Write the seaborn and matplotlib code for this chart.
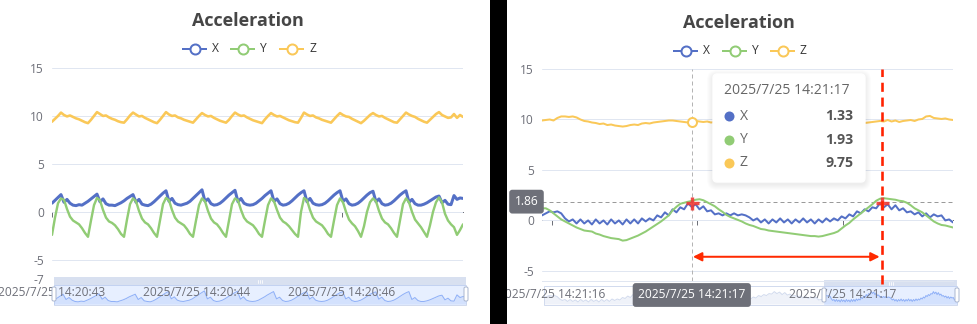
import numpy as np
import pandas as pd
import matplotlib
matplotlib.use("Agg")
import matplotlib.pyplot as plt
import matplotlib.transforms as mtransforms
from matplotlib.patches import Rectangle, FancyBboxPatch
import seaborn as sns

# ---------------- data ----------------
series_names = ["X", "Y", "Z"]
series_colors = ["#5470c6", "#91cc75", "#fac858"]
chart_title = "Acceleration"

# left chart (full range view)
left_x_labels = ["2025/7/25 14:20:43", "2025/7/25 14:20:44", "2025/7/25 14:20:46"]
left_x_label_pos = [0, 48.3, 96.7]
left_yticks = [15, 10, 5, 0, -5, -7]
left_ylim = (-7, 15)

X_left = [0.9, 1.2, 1.5,
          1.8, 1.0, 1.3, 0.9, 0.7, 0.65, 0.75, 0.7, 0.9, 1.1, 1.35, 1.6,
          1.85, 1.05, 1.35, 0.85, 0.7, 0.7, 0.65, 0.8, 0.95, 1.15, 1.4, 1.6,
          1.8, 1.0, 1.3, 0.8, 0.7, 0.65, 0.8, 1.05, 1.35, 1.65, 1.95,
          2.2, 1.1, 1.4, 0.9, 0.75, 0.7, 0.8, 0.9, 1.1, 1.4, 1.7, 2.0,
          2.3, 1.1, 1.35, 0.85, 0.7, 0.75, 0.9, 1.15, 1.45, 1.75, 2.0,
          2.25, 1.05, 1.4, 0.9, 0.75, 0.7, 0.75, 0.9, 1.15, 1.4, 1.7, 1.95,
          2.2, 1.1, 1.35, 0.85, 0.7, 0.75, 0.9, 1.15, 1.45, 1.75, 2.0,
          2.2, 1.05, 1.4, 0.9, 0.75, 0.7, 0.75, 0.9, 1.15, 1.45, 1.75, 2.0,
          2.2, 1.1, 1.35, 0.85, 0.7, 0.75, 0.9, 1.15, 1.45, 1.75, 2.0,
          2.15, 1.05, 1.35, 0.85, 0.7, 0.75, 0.9, 1.15, 1.45, 1.75, 2.0,
          2.2, 1.0, 1.3, 0.85, 0.7, 0.7, 0.8, 0.95, 1.15, 1.35, 1.55,
          1.65, 0.95, 1.2, 0.8, 0.75, 1.7, 1.3, 1.45, 1.4]

Y_left = [-2.4, -0.6, 0.9,
          1.4, 1.25, 0.3, -0.5, -0.9, -1.1, -1.3, -1.7, -2.2, -2.6, -0.9, 0.7,
          1.45, 1.2, 0.2, -0.6, -1.0, -1.15, -1.4, -1.8, -2.3, -2.6, -0.8, 0.8,
          1.4, 1.1, 0.1, -0.7, -1.1, -1.3, -1.7, -2.2, -2.6, -0.9, 0.8,
          1.45, 1.2, 0.2, -0.6, -1.0, -1.2, -1.4, -1.8, -2.3, -2.6, -0.9, 0.7,
          1.4, 1.1, 0.1, -0.7, -1.1, -1.3, -1.7, -2.2, -2.6, -0.9, 0.8,
          1.4, 1.2, 0.2, -0.6, -1.0, -1.2, -1.4, -1.8, -2.3, -2.6, -0.9, 0.7,
          1.4, 1.1, 0.2, -0.6, -1.0, -1.2, -1.5, -1.9, -2.3, -2.6, 0.0,
          1.45, 1.2, 0.2, -0.6, -1.0, -1.2, -1.4, -1.8, -2.3, -2.6, -0.9, 0.7,
          1.4, 1.0, 0.0, -0.8, -1.2, -1.5, -2.0, -2.6, -1.5, 0.0, 1.0,
          1.4, 1.1, 0.1, -0.7, -1.1, -1.3, -1.7, -2.2, -2.6, -0.9, 0.8,
          1.4, 1.0, 0.0, -0.8, -1.2, -1.6, -2.1, -2.6, -1.4, 0.0, 1.0,
          1.5, 1.0, -0.2, -0.9, -1.3, -1.6, -2.4, -1.9, -1.3]

Z_left = [9.4, 9.7, 10.0,
          10.35, 10.1, 9.95, 10.05, 9.9, 9.75, 9.65, 9.5, 9.35, 9.25, 9.6, 10.0,
          10.4, 10.2, 10.0, 10.05, 9.85, 9.7, 9.6, 9.45, 9.35, 9.3, 9.65, 10.05,
          10.35, 10.15, 9.95, 10.0, 9.8, 9.65, 9.5, 9.35, 9.25, 9.6, 10.0,
          10.4, 10.15, 10.0, 10.05, 9.85, 9.75, 9.6, 9.5, 9.4, 9.3, 9.65, 10.0,
          10.3, 10.1, 9.95, 10.0, 9.8, 9.65, 9.5, 9.4, 9.3, 9.6, 10.0,
          10.35, 10.15, 10.0, 10.05, 9.85, 9.7, 9.55, 9.45, 9.35, 9.25, 9.65, 10.0,
          10.3, 10.1, 9.95, 10.0, 9.85, 9.7, 9.55, 9.45, 9.35, 9.3, 9.8,
          10.35, 10.15, 10.0, 10.05, 9.85, 9.75, 9.6, 9.5, 9.4, 9.3, 9.65, 10.0,
          10.3, 10.1, 9.95, 9.9, 9.7, 9.55, 9.4, 9.25, 9.5, 9.8, 10.1,
          10.3, 10.1, 9.95, 10.0, 9.8, 9.65, 9.5, 9.35, 9.3, 9.65, 10.0,
          10.35, 10.15, 10.0, 9.9, 9.7, 9.55, 9.4, 9.3, 9.6, 9.9, 10.2,
          10.4, 10.1, 9.95, 9.8, 9.85, 10.2, 9.8, 10.1, 9.9]

# right chart (zoomed view with tooltip)
right_x_labels = ["2025/7/25 14:21:16", "2025/7/25 14:21:17", "2025/7/25 14:21:17"]
right_x_label_pos = [2.6, 40.4, 78.4]
right_yticks = [15, 10, 5, 0, -5]
right_ylim = (-6, 15)

X_right = [0.5, 0.7, 0.9, 0.8, 0.9, 0.7, 0.2, -0.1, 0.1, -0.3,
           0.1, -0.3, 0.0, -0.4, 0.1, -0.3, 0.0, -0.4, 0.1, -0.3,
           0.0, -0.4, 0.1, -0.3, 0.1, -0.3, 0.2, -0.1, 0.2, 0.0,
           0.5, 0.3, 0.8, 0.5, 1.1, 0.8, 1.3, 1.1, 1.7, 1.33,
           1.6, 1.1, 1.4, 0.9, 1.0, 0.6, 0.7, 0.5, 0.7, 0.5,
           0.7, 0.5, 0.6, 0.5, 0.3, 0.0, 0.2, -0.2, 0.1, -0.3,
           0.1, -0.2, 0.2, -0.2, 0.1, -0.3, 0.1, -0.2, 0.2, -0.2,
           0.1, -0.3, 0.1, -0.2, 0.2, -0.1, 0.2, 0.0, 0.4, 0.2,
           0.6, 0.4, 0.9, 0.7, 1.1, 0.9, 1.3, 1.2, 1.7, 1.3,
           1.6, 1.1, 1.5, 1.0, 1.2, 0.8, 0.9, 0.6, 0.8, 0.4,
           0.7, 0.3, 0.6, 0.4, 0.5, 0.0, 0.1, -0.2]

Y_right = [1.2, 1.2, 1.0, 0.7, 0.4, 0.1, -0.1, -0.3, -0.5, -0.7,
           -0.85, -1.0, -1.05, -1.1, -1.3, -1.4, -1.55, -1.65, -1.75, -1.8,
           -1.85, -2.0, -1.95, -1.8, -1.65, -1.5, -1.3, -1.1, -0.85, -0.6,
           -0.35, -0.1, 0.2, 0.5, 1.0, 1.35, 1.65, 1.75, 1.85, 1.93,
           2.05, 2.1, 2.0, 1.8, 1.6, 1.4, 1.1, 0.85, 0.55, 0.35,
           0.2, 0.05, -0.1, -0.3, -0.45, -0.55, -0.7, -0.85, -0.9, -1.0,
           -1.05, -1.1, -1.15, -1.2, -1.25, -1.3, -1.35, -1.4, -1.45, -1.5,
           -1.55, -1.55, -1.6, -1.55, -1.45, -1.35, -1.25, -1.1, -0.8, -0.5,
           -0.25, 0.1, 0.4, 0.7, 1.0, 1.3, 1.6, 1.95, 2.15, 2.2,
           2.15, 2.1, 2.05, 1.95, 1.9, 1.75, 1.5, 1.2, 1.0, 0.8,
           0.5, 0.2, -0.1, -0.3, -0.45, -0.5, -0.6, -0.7]

Z_right = [9.9, 9.95, 10.0, 9.9, 10.15, 10.3, 10.3, 10.25, 10.3, 10.2,
           10.0, 9.85, 9.8, 9.7, 9.65, 9.55, 9.6, 9.45, 9.5, 9.4,
           9.35, 9.3, 9.35, 9.45, 9.5, 9.45, 9.6, 9.65, 9.6, 9.7,
           9.75, 9.8, 9.85, 9.9, 9.9, 9.85, 9.8, 9.75, 9.7, 9.75,
           9.85, 9.8, 9.75, 9.8, 9.7, 9.75, 9.8, 9.7, 9.75, 9.8,
           9.85, 9.8, 9.9, 9.85, 9.8, 9.75, 9.7, 9.75, 9.8, 9.7,
           9.65, 9.7, 9.75, 9.7, 9.65, 9.7, 9.6, 9.65, 9.7, 9.6,
           9.55, 9.6, 9.65, 9.6, 9.55, 9.6, 9.65, 9.6, 9.55, 9.6,
           9.65, 9.6, 9.65, 9.6, 9.65, 9.7, 9.75, 9.8, 9.85, 9.8,
           9.95, 9.8, 9.9, 9.75, 9.85, 9.9, 9.95, 9.85, 10.0, 10.05,
           10.3, 10.35, 10.15, 10.1, 10.05, 10.1, 10.0, 9.95]

hover_idx = 39
hover_time = "2025/7/25 14:21:17"
hover_values = [1.33, 1.93, 9.75]
pointer_y = 1.86
cross_y = 1.75
marker_idx = 88.5
arrow_y = -3.6

# ---------------- style ----------------
sns.set_style("white")
plt.rcParams["font.family"] = ["Open Sans", "DejaVu Sans"]
plt.rcParams["axes.unicode_minus"] = False
BOLD_FAMILY = ["Open Sans", "Lato", "DejaVu Sans"]

W, H, DPI = 978, 324, 100
PT = 72 / DPI
FS = 12 * PT
AXIS_GRAY = "#6e7079"
GRID = "#e0e6f1"

fig = plt.figure(figsize=(W / DPI, H / DPI), dpi=DPI, facecolor="white")


def px_axes(x0, y0, x1, y1, z):
    a = fig.add_axes([x0 / W, 1 - y1 / H, (x1 - x0) / W, (y1 - y0) / H])
    a.set_zorder(z)
    return a


bg = px_axes(0, 0, W, H, -1)
bg.set_xlim(0, W); bg.set_ylim(H, 0); bg.axis("off")
ov = px_axes(0, 0, W, H, 10)
ov.set_xlim(0, W); ov.set_ylim(H, 0); ov.axis("off")


def draw_panel(box, X, Y, Z, ylim, yticks, xlabels, xpos, lws, bottom_line):
    ax = px_axes(*box, 1)
    ax.patch.set_visible(False)
    ax.set_axisbelow(True)
    for vals, color, lw in zip((X, Y, Z), series_colors, lws):
        df = pd.DataFrame({"t": np.arange(len(vals)), "v": vals})
        sns.lineplot(data=df, x="t", y="v", ax=ax, color=color, linewidth=lw * PT,
                     estimator=None, sort=False, legend=False)
    ax.set_xlim(0, max(len(X), len(Y), len(Z)) - 1)
    ax.set_ylim(*ylim)
    ax.set_yticks(yticks)
    ax.set_yticklabels([str(v) for v in yticks])
    ax.set_xticks(xpos)
    ax.set_xticklabels(xlabels)
    ax.set_xlabel(""); ax.set_ylabel("")
    ax.tick_params(axis="y", left=False, length=0, pad=8 * PT, labelsize=FS, labelcolor=AXIS_GRAY)
    ax.tick_params(axis="x", bottom=False, length=0, pad=7 * PT, labelsize=FS, labelcolor=AXIS_GRAY)
    ax.grid(axis="y", color=GRID, lw=1 * PT)
    ax.grid(axis="x", visible=False)
    for s in ax.spines.values():
        s.set_visible(False)
    if bottom_line:
        ax.spines["bottom"].set_visible(True)
        ax.spines["bottom"].set_color(GRID)
        ax.spines["bottom"].set_linewidth(1 * PT)
    sec = ax.secondary_xaxis(-ylim[0] / (ylim[1] - ylim[0]))
    sec.set_xticks(xpos)
    sec.tick_params(axis="x", bottom=True, top=False, length=5 * PT, width=1 * PT,
                    color=AXIS_GRAY, labelbottom=False, labeltop=False, direction="out")
    sec.spines["bottom"].set_color(AXIS_GRAY)
    sec.spines["bottom"].set_linewidth(1 * PT)
    return ax


def shadow(x0, x1, ytop, ybot, vals, color, fill_alpha, z):
    a = px_axes(x0, ytop, x1, ybot, z)
    a.axis("off")
    t = np.arange(len(vals))
    df = pd.DataFrame({"t": t, "v": vals})
    sns.lineplot(data=df, x="t", y="v", ax=a, color=color, linewidth=1 * PT,
                 estimator=None, sort=False, legend=False)
    lo, hi = min(vals), max(vals)
    span = hi - lo
    base = lo - 0.2 * span
    a.fill_between(t, vals, base, color=color, alpha=fill_alpha, lw=0)
    a.set_ylim(base, hi + 0.45 * span)
    a.set_xlim(0, len(vals) - 1)


def draw_slider(x0, x1, y_handle, y_body, y_bot, sel0, sel1, vals):
    bg.add_patch(Rectangle((x0, y_body), x1 - x0, y_bot - y_body, fc="white",
                           ec="#d2dbee", lw=1 * PT))
    if sel0 > x0:
        shadow(x0, sel0, y_body + 1, y_bot - 1, vals, "#d2dbee", 0.35, 0.5)
    bg.add_patch(Rectangle((sel0, y_body), sel1 - sel0, y_bot - y_body,
                           fc="#87afff", alpha=0.2, lw=0))
    shadow(sel0, sel1, y_body + 1, y_bot - 1, vals, "#8fb0f7", 0.22, 0.5)
    bg.add_patch(Rectangle((sel0, y_handle), sel1 - sel0, y_body - y_handle,
                           fc="#d2dbee", alpha=0.85, lw=0))
    cx = (sel0 + sel1) / 2
    cy = (y_handle + y_body) / 2
    for dx in (-2, 0, 2):
        bg.plot([cx + dx, cx + dx], [cy - 1.5, cy + 1.5], color="white", lw=0.8 * PT)
    for hx in (sel0, sel1):
        ov.add_patch(FancyBboxPatch((hx - 2, y_body + 2), 4, 14,
                                    boxstyle="round,pad=0,rounding_size=1.5",
                                    fc="white", ec="#acb8d1", lw=1 * PT, zorder=3))


def draw_legend(x_starts, y):
    for xs, name, color in zip(x_starts, series_names, series_colors):
        ov.plot([xs, xs + 25], [y, y], color=color, lw=2 * PT, solid_capstyle="butt")
        ov.plot([xs + 12.5], [y], marker="o", ms=10 * PT, mfc="white", mec=color, mew=2 * PT)
        ov.text(xs + 30, y, name, ha="left", va="center", fontsize=FS, color="#333333")


# ---------------- left panel ----------------
ax_l = draw_panel((52, 68, 463, 279), X_left, Y_left, Z_left, left_ylim, left_yticks,
                  left_x_labels, left_x_label_pos, (3.0, 2.4, 2.6), False)
draw_slider(54, 466, 277, 285, 305, 54, 466, X_left)
ov.text(248, 21, chart_title, ha="center", va="center", fontsize=18 * PT,
        fontweight="bold", family=BOLD_FAMILY, color="#464646")
draw_legend([182, 230, 279], 49)

# ---------------- right panel ----------------
ax_r = draw_panel((542, 69, 953, 281), X_right, Y_right, Z_right, right_ylim, right_yticks,
                  right_x_labels, right_x_label_pos, (2.0, 2.0, 2.0), True)
draw_slider(544, 957, 280, 286, 305, 824, 957, X_right)
ov.text(739, 23, chart_title, ha="center", va="center", fontsize=18 * PT,
        fontweight="bold", family=BOLD_FAMILY, color="#464646")
draw_legend([673, 722, 770], 51)

# axis pointer (vertical + horizontal) and annotations
ax_r.axvline(hover_idx, color="#b4b4b4", lw=1 * PT, ls=(0, (4, 3)), zorder=1)
ax_r.axhline(pointer_y, color="#9a9a9a", lw=1 * PT, ls=(0, (4, 3)), zorder=1)
ax_r.plot([hover_idx], [Z_right[hover_idx]], marker="o", ms=9 * PT, mfc="white",
          mec=series_colors[2], mew=2 * PT, zorder=5)
ax_r.plot([hover_idx, marker_idx], [cross_y, cross_y], ls="none", marker="+",
          ms=13 * PT, mew=3.4 * PT, color="#f03a35", alpha=0.9, zorder=6)
ax_r.axvline(marker_idx, ymin=-0.012, ymax=1, color="#ff2200", lw=2.6 * PT,
             ls=(0, (3.5, 2.2)), clip_on=False, zorder=6)
ax_r.annotate("", xy=(marker_idx - 0.6, arrow_y), xytext=(hover_idx + 0.3, arrow_y),
              arrowprops=dict(arrowstyle="<|-|>", color="#ff2a00", lw=2 * PT,
                              mutation_scale=13, shrinkA=0, shrinkB=0), zorder=6)

trans_y = mtransforms.blended_transform_factory(ax_r.transAxes, ax_r.transData)
ax_r.text(-0.0377, pointer_y, f"{pointer_y:.2f}", transform=trans_y, ha="center",
          va="center", color="white", fontsize=FS, clip_on=False, zorder=7,
          bbox=dict(boxstyle="round,pad=0.45,rounding_size=0.25", fc=AXIS_GRAY, ec="none"))

trans_x = mtransforms.blended_transform_factory(ax_r.transData, ov.transData)
ov.text(hover_idx, 295, hover_time, transform=trans_x, ha="center", va="center",
        color="white", fontsize=FS, zorder=4,
        bbox=dict(boxstyle="round,pad=0.45,rounding_size=0.25", fc=AXIS_GRAY, ec="none"))

# tooltip
tx0, ty0, tw, th = 713, 74, 152, 108
for k in range(1, 7):
    ov.add_patch(FancyBboxPatch((tx0 - k, ty0 - k + 2), tw + 2 * k, th + 2 * k,
                                boxstyle=f"round,pad=0,rounding_size={4 + k}",
                                fc="black", alpha=0.012, lw=0, zorder=2))
ov.add_patch(FancyBboxPatch((tx0, ty0), tw, th, boxstyle="round,pad=0,rounding_size=4",
                            fc="white", ec="white", lw=1, zorder=2.5))
ov.text(724, 91, hover_time, ha="left", va="center", fontsize=14 * PT, color="#666666", zorder=3)
for i, (name, color, val) in enumerate(zip(series_names, series_colors, hover_values)):
    yy = 116 + i * 23.5
    ov.plot([729], [yy], marker="o", ms=10 * PT, color=color, mew=0, zorder=3)
    ov.text(740, yy, name, ha="left", va="center", fontsize=14 * PT, color="#666666", zorder=3)
    ov.text(853, yy, f"{val:.2f}", ha="right", va="center", fontsize=14 * PT,
            fontweight="bold", family=BOLD_FAMILY, color="#555555", zorder=3)

# black separator between the two screenshots
ov.add_patch(Rectangle((490, 0), 17, H, fc="black", ec="none", zorder=9))

fig.savefig("out.png", dpi=DPI, facecolor="white")
